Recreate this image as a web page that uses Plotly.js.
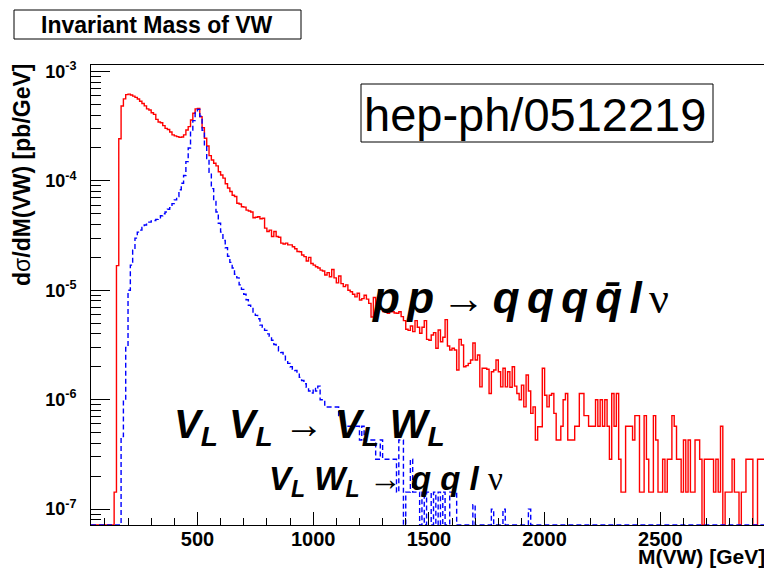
<!DOCTYPE html>
<html>
<head>
<meta charset="utf-8">
<script src="https://cdn.plot.ly/plotly-3.0.1.min.js"></script>
<style>html,body{margin:0;padding:0;background:#fff;}#chart{width:764px;height:573px;}</style>
</head>
<body>
<div id="chart"></div>
<script>
// ---- data: histogram bins (low edge of first bin, bin width in GeV) ----
const BIN_LOW = 40;
const BIN_WIDTH = 10;

// pp -> qqqq l nu  (red, solid), dsigma/dM in pb/GeV per 10 GeV bin starting at 40 GeV
const redValues = [
0,0,0,0,0,0,0,0,0,0,
1.43e-7,1.68e-5,2.43e-4,4.84e-4,5.61e-4,6.14e-4,6.2e-4,6.1e-4,5.95e-4,5.8e-4,
5.6e-4,5.35e-4,5.1e-4,4.85e-4,4.55e-4,4.45e-4,4.2e-4,4.05e-4,3.65e-4,3.45e-4,
3.4e-4,3.2e-4,3.02e-4,2.95e-4,2.8e-4,2.63e-4,2.58e-4,2.54e-4,2.5e-4,2.52e-4,
2.63e-4,2.92e-4,3.13e-4,3.6e-4,4.15e-4,4.55e-4,4.58e-4,3.86e-4,3.06e-4,2.45e-4,
2.08e-4,1.70e-4,1.55e-4,1.45e-4,1.37e-4,1.21e-4,1.13e-4,1.06e-4,9.4e-5,8.6e-5,
8.0e-5,7.4e-5,7.2e-5,6.25e-5,6.15e-5,5.8e-5,5.75e-5,5.4e-5,5.3e-5,5.2e-5,
4.6e-5,4.65e-5,4.7e-5,4.5e-5,4.55e-5,3.7e-5,3.45e-5,3.55e-5,3.1e-5,3.45e-5,
3.1e-5,3.05e-5,2.7e-5,2.65e-5,2.7e-5,2.6e-5,2.6e-5,2.5e-5,2.4e-5,2.26e-5,
2.25e-5,2.1e-5,2.03e-5,1.85e-5,2.0e-5,1.76e-5,1.7e-5,1.64e-5,1.6e-5,1.53e-5,
1.5e-5,1.38e-5,1.45e-5,1.33e-5,1.55e-5,1.3e-5,1.17e-5,1.35e-5,1.15e-5,1.08e-5,
1.12e-5,1.0e-5,9.7e-6,9.2e-6,8.7e-6,9.4e-6,8.15e-6,8.4e-6,9.0e-6,8.3e-6,
7.6e-6,5.7e-6,8.6e-6,7.2e-6,6.8e-6,6.7e-6,6.4e-6,6.37e-6,6.16e-6,6.4e-6,
6.37e-6,6.2e-6,6.16e-6,6.37e-6,5.74e-6,5.28e-6,4.4e-6,4.3e-6,4.72e-6,4.19e-6,
5.28e-6,4.59e-6,4.05e-6,4.59e-6,5.28e-6,3.56e-6,3.5e-6,3.9e-6,4.1e-6,2.95e-6,
4.34e-6,3.39e-6,3.72e-6,5.4e-6,3.1e-6,2.85e-6,2.95e-6,2.85e-6,1.87e-6,3.56e-6,
3.16e-6,2.0e-6,2.05e-6,2.15e-6,2.31e-6,3.3e-6,2.31e-6,2.56e-6,1.31e-6,1.94e-6,
1.94e-6,1.9e-6,1.14e-6,1.8e-6,1.87e-6,2.31e-6,1.8e-6,1.31e-6,1.94e-6,1.31e-6,
1.8e-6,1.3e-6,2.0e-6,1.33e-6,1.14e-6,1.0e-6,1.36e-6,8.6e-7,1.68e-6,1.2e-6,
7.5e-7,8.6e-7,4.28e-7,5.67e-7,5.67e-7,1.94e-6,1.1e-6,8.6e-7,1.1e-6,1.14e-6,
7.5e-7,4.28e-7,4.28e-7,5.72e-7,1.0e-6,1.14e-6,4.29e-7,4.29e-7,4.29e-7,5.72e-7,
5.72e-7,1.14e-6,1.14e-6,7.15e-7,7.15e-7,5.72e-7,5.72e-7,5.72e-7,1.0e-6,5.72e-7,
1.0e-6,5.72e-7,1.0e-6,5.72e-7,2.86e-7,1.14e-6,5.72e-7,1.14e-6,2.86e-7,1.43e-7,
1.43e-7,5.72e-7,5.72e-7,5.72e-7,4.29e-7,7.15e-7,7.15e-7,1.43e-7,1.43e-7,7.15e-7,
2.86e-7,1.43e-7,1.43e-7,7.15e-7,4.29e-7,1.43e-7,1.43e-7,2.86e-7,1.43e-7,2.86e-7,
2.86e-7,7.15e-7,5.72e-7,2.86e-7,2.86e-7,1.43e-7,4.29e-7,1.43e-7,4.29e-7,1.43e-7,
1.43e-7,4.29e-7,4.29e-7,2.86e-7,0,2.86e-7,2.86e-7,2.86e-7,2.86e-7,1.43e-7,
2.86e-7,1.43e-7,5.72e-7,0,1.43e-7,1.43e-7,1.43e-7,2.86e-7,1.43e-7,1.43e-7,
0,1.43e-7,1.43e-7,2.86e-7,2.86e-7,2.86e-7,0,0,2.86e-7,2.86e-7,
2.86e-7
];

// V_L V_L -> V_L W_L -> qq l nu  (blue, dashed)
const blueValues = [
0,0,0,0,0,0,0,0,0,0,
0,0,0,4.6e-7,1.0e-6,3.0e-6,1.0e-5,1.7e-5,2.33e-5,3.0e-5,
3.4e-5,3.55e-5,3.75e-5,3.95e-5,4.1e-5,4.2e-5,4.3e-5,4.35e-5,4.45e-5,4.6e-5,
4.8e-5,5.0e-5,5.2e-5,5.5e-5,5.7e-5,6.2e-5,6.7e-5,7.2e-5,8.3e-5,9.5e-5,
1.12e-4,1.5e-4,2.0e-4,2.85e-4,3.55e-4,4.2e-4,4.5e-4,3.9e-4,2.9e-4,2.1e-4,
1.6e-4,1.2e-4,8.5e-5,6.5e-5,5.2e-5,4.1e-5,3.4e-5,2.85e-5,2.45e-5,2.05e-5,
1.8e-5,1.6e-5,1.4e-5,1.3e-5,1.12e-5,1.02e-5,9.2e-6,8.2e-6,7.3e-6,7.0e-6,
6.2e-6,5.9e-6,5.5e-6,4.8e-6,4.6e-6,4.3e-6,4.0e-6,3.8e-6,3.5e-6,3.2e-6,
3.05e-6,2.8e-6,2.7e-6,2.5e-6,2.3e-6,2.15e-6,2.0e-6,1.9e-6,1.85e-6,1.75e-6,
1.6e-6,1.5e-6,1.4e-6,1.3e-6,1.2e-6,1.15e-6,1.27e-6,1.2e-6,1.33e-6,1.0e-6,
1.0e-6,8.58e-7,8.58e-7,8.58e-7,8.58e-7,8.58e-7,8.58e-7,7.15e-7,7.15e-7,5.72e-7,
5.72e-7,5.72e-7,5.72e-7,5.72e-7,5.72e-7,5.72e-7,4.29e-7,5.72e-7,4.29e-7,4.29e-7,
4.29e-7,4.29e-7,4.29e-7,2.86e-7,2.86e-7,4.29e-7,2.86e-7,2.86e-7,2.86e-7,2.86e-7,
2.86e-7,2.86e-7,1.43e-7,4.29e-7,4.29e-7,0,1.43e-7,1.43e-7,2.86e-7,1.43e-7,
1.43e-7,1.43e-7,0,1.43e-7,0,1.43e-7,1.43e-7,0,1.43e-7,0,
1.43e-7,0,1.43e-7,0,0,1.43e-7,1.43e-7,1.43e-7,0,0,
0,0,0,0,0,1.1e-7,0,0,0,0,
0,0,0,1.0e-7,0,0,0,0,1.0e-7,0,
0,0,0,0,0,0,0,0,0,1.0e-7,
0,0,0,0,0,0,0,0,0,0,
0,0,0,0,0,0,0,0,0,0,
0,0,0,0,0,0,0,0,0,0,
0,0,0,0,0,0,0,0,0,0,
0,0,0,0,0,0,0,0,0,0,
0,0,0,0,0,0,0,0,0,0,
0,0,0,0,0,0,0,0,0,0,
0,0,0,0,0,0,0,0,0,0,
0,0,0,0,0,0,0,0,0,0,
0,0,0,0,0,0,0,0,0,0,
0
];

const yTickVals = [1e-7, 1e-6, 1e-5, 1e-4, 1e-3];
const yTickText = ['10<sup>-7</sup>','10<sup>-6</sup>','10<sup>-5</sup>','10<sup>-4</sup>','10<sup>-3</sup>'];
const xTickVals = [500, 1000, 1500, 2000, 2500];
const xTickText = ['500','1000','1500','2000','2500'];

// ---- layout helpers ----
const W = 764, H = 573;
const M = {l: 91, r: 0, t: 65, b: 48};
const PW = W - M.l - M.r, PH = H - M.t - M.b;
const px = p => (p - M.l) / PW;
const py = p => (H - M.b - p) / PH;
const Y_RANGE = [-7.145, -2.941];
const FLOOR = Math.pow(10, Y_RANGE[0]);

function steps(vals) {
  const xs = [], ys = [];
  vals.forEach((v, i) => { xs.push(BIN_LOW + i * BIN_WIDTH); ys.push(v > 0 ? v : FLOOR); });
  xs.push(BIN_LOW + vals.length * BIN_WIDTH);
  ys.push(ys[ys.length - 1]);
  return {xs, ys};
}
const r = steps(redValues), b = steps(blueValues);

const minorY = [];
[-8,-7,-6,-5,-4].forEach(e => { for (let k = 2; k <= 9; k++) minorY.push(k * Math.pow(10, e)); });

const FONT = 'Liberation Sans, Arial, sans-serif';
const traces = [
  {x: r.xs, y: r.ys, type: 'scatter', mode: 'lines', line: {shape: 'hv', color: '#ff0000', width: 1.4}, hoverinfo: 'skip'},
  {x: b.xs, y: b.ys, type: 'scatter', mode: 'lines', line: {shape: 'hv', color: '#0000ff', width: 1.4, dash: '5px,3px'}, hoverinfo: 'skip'}
];

const n = "<span style='font-weight:normal;font-style:normal'>";
const nu = "<span style='font-weight:normal;font-style:normal;font-family:Liberation Serif'>ν</span>";
const sp = '\u2006';
const layout = {
  width: W, height: H,
  margin: {l: M.l, r: M.r, t: M.t, b: M.b, pad: 0},
  paper_bgcolor: '#ffffff', plot_bgcolor: '#ffffff',
  showlegend: false,
  font: {family: FONT, color: '#000000'},
  xaxis: {
    range: [40, 2948], showline: true, linecolor: '#000', linewidth: 1, mirror: true,
    ticks: 'inside', ticklen: 13, tickwidth: 1, tickcolor: '#000',
    tickmode: 'array', tickvals: xTickVals, ticktext: xTickText,
    tickfont: {family: FONT, size: 20, weight: 'bold', color: '#000'},
    ticklabelstandoff: -4,
    showgrid: false, zeroline: false,
    minor: {ticks: 'inside', ticklen: 7, tick0: 0, dtick: 100, tickcolor: '#000', tickwidth: 1, showgrid: false}
  },
  yaxis: {
    type: 'log', range: Y_RANGE, showline: true, linecolor: '#000', linewidth: 1, mirror: false,
    ticks: 'inside', ticklen: 19, tickwidth: 1, tickcolor: '#000',
    tickmode: 'array', tickvals: yTickVals, ticktext: yTickText,
    tickfont: {family: FONT, size: 18, weight: 'bold', color: '#000'},
    ticklabelstandoff: 10,
    showgrid: false, zeroline: false,
    minor: {ticks: 'inside', ticklen: 10, tickmode: 'array', tickvals: minorY, tickcolor: '#000', tickwidth: 1, showgrid: false}
  },
  shapes: [
    {type: 'rect', xref: 'paper', yref: 'paper', x0: px(14), x1: px(301), y0: py(39), y1: py(10),
     line: {color: '#000', width: 1}, fillcolor: '#ffffff', layer: 'above'},
    {type: 'rect', xref: 'paper', yref: 'paper', x0: px(361), x1: px(713), y0: py(142), y1: py(84),
     line: {color: '#000', width: 1}, fillcolor: '#ffffff', layer: 'above'}
  ],
  annotations: [
    {xref: 'paper', yref: 'paper', x: px(157), y: py(25), xanchor: 'center', yanchor: 'middle', showarrow: false,
     text: 'Invariant Mass of VW', font: {family: FONT, size: 23, weight: 'bold', color: '#000'}},
    {xref: 'paper', yref: 'paper', x: px(362), y: py(114), xanchor: 'left', yanchor: 'middle', showarrow: false,
     text: 'hep-ph/0512219', font: {family: FONT, size: 47, color: '#000'}},
    {xref: 'paper', yref: 'paper', x: px(370), y: py(298), xanchor: 'left', yanchor: 'middle', showarrow: false,
     text: 'p' + sp + 'p' + sp + n + '→</span>' + sp + 'q' + sp + 'q' + sp + 'q' + sp + 'q̄' + sp + 'l' + sp + nu,
     font: {family: FONT, size: 44, weight: 'bold', style: 'italic', color: '#000'}},
    {xref: 'paper', yref: 'paper', x: px(172), y: py(427), xanchor: 'left', yanchor: 'middle', showarrow: false,
     text: 'V<sub>L</sub> V<sub>L</sub> ' + n + '→</span> V<sub>L</sub> W<sub>L</sub>',
     font: {family: FONT, size: 40, weight: 'bold', style: 'italic', color: '#000'}},
    {xref: 'paper', yref: 'paper', x: px(267), y: py(481), xanchor: 'left', yanchor: 'middle', showarrow: false,
     text: 'V<sub>L</sub> W<sub>L</sub> ' + n + '→</span> q q l ' + nu,
     font: {family: FONT, size: 33, weight: 'bold', style: 'italic', color: '#000'}},
    {xref: 'paper', yref: 'paper', x: px(22), y: py(62), xanchor: 'center', yanchor: 'top', showarrow: false, textangle: -90,
     text: 'd<span style="font-weight:normal">σ</span>/dM(VW) [pb/GeV]', font: {family: FONT, size: 23, weight: 'bold', color: '#000'}},
    {xref: 'paper', yref: 'paper', x: px(767), y: py(556), xanchor: 'right', yanchor: 'middle', showarrow: false,
     text: 'M(VW) [GeV]', font: {family: FONT, size: 21, weight: 'bold', color: '#000'}}
  ]
};

Plotly.newPlot('chart', traces, layout, {staticPlot: true, displayModeBar: false});
</script>
</body>
</html>
